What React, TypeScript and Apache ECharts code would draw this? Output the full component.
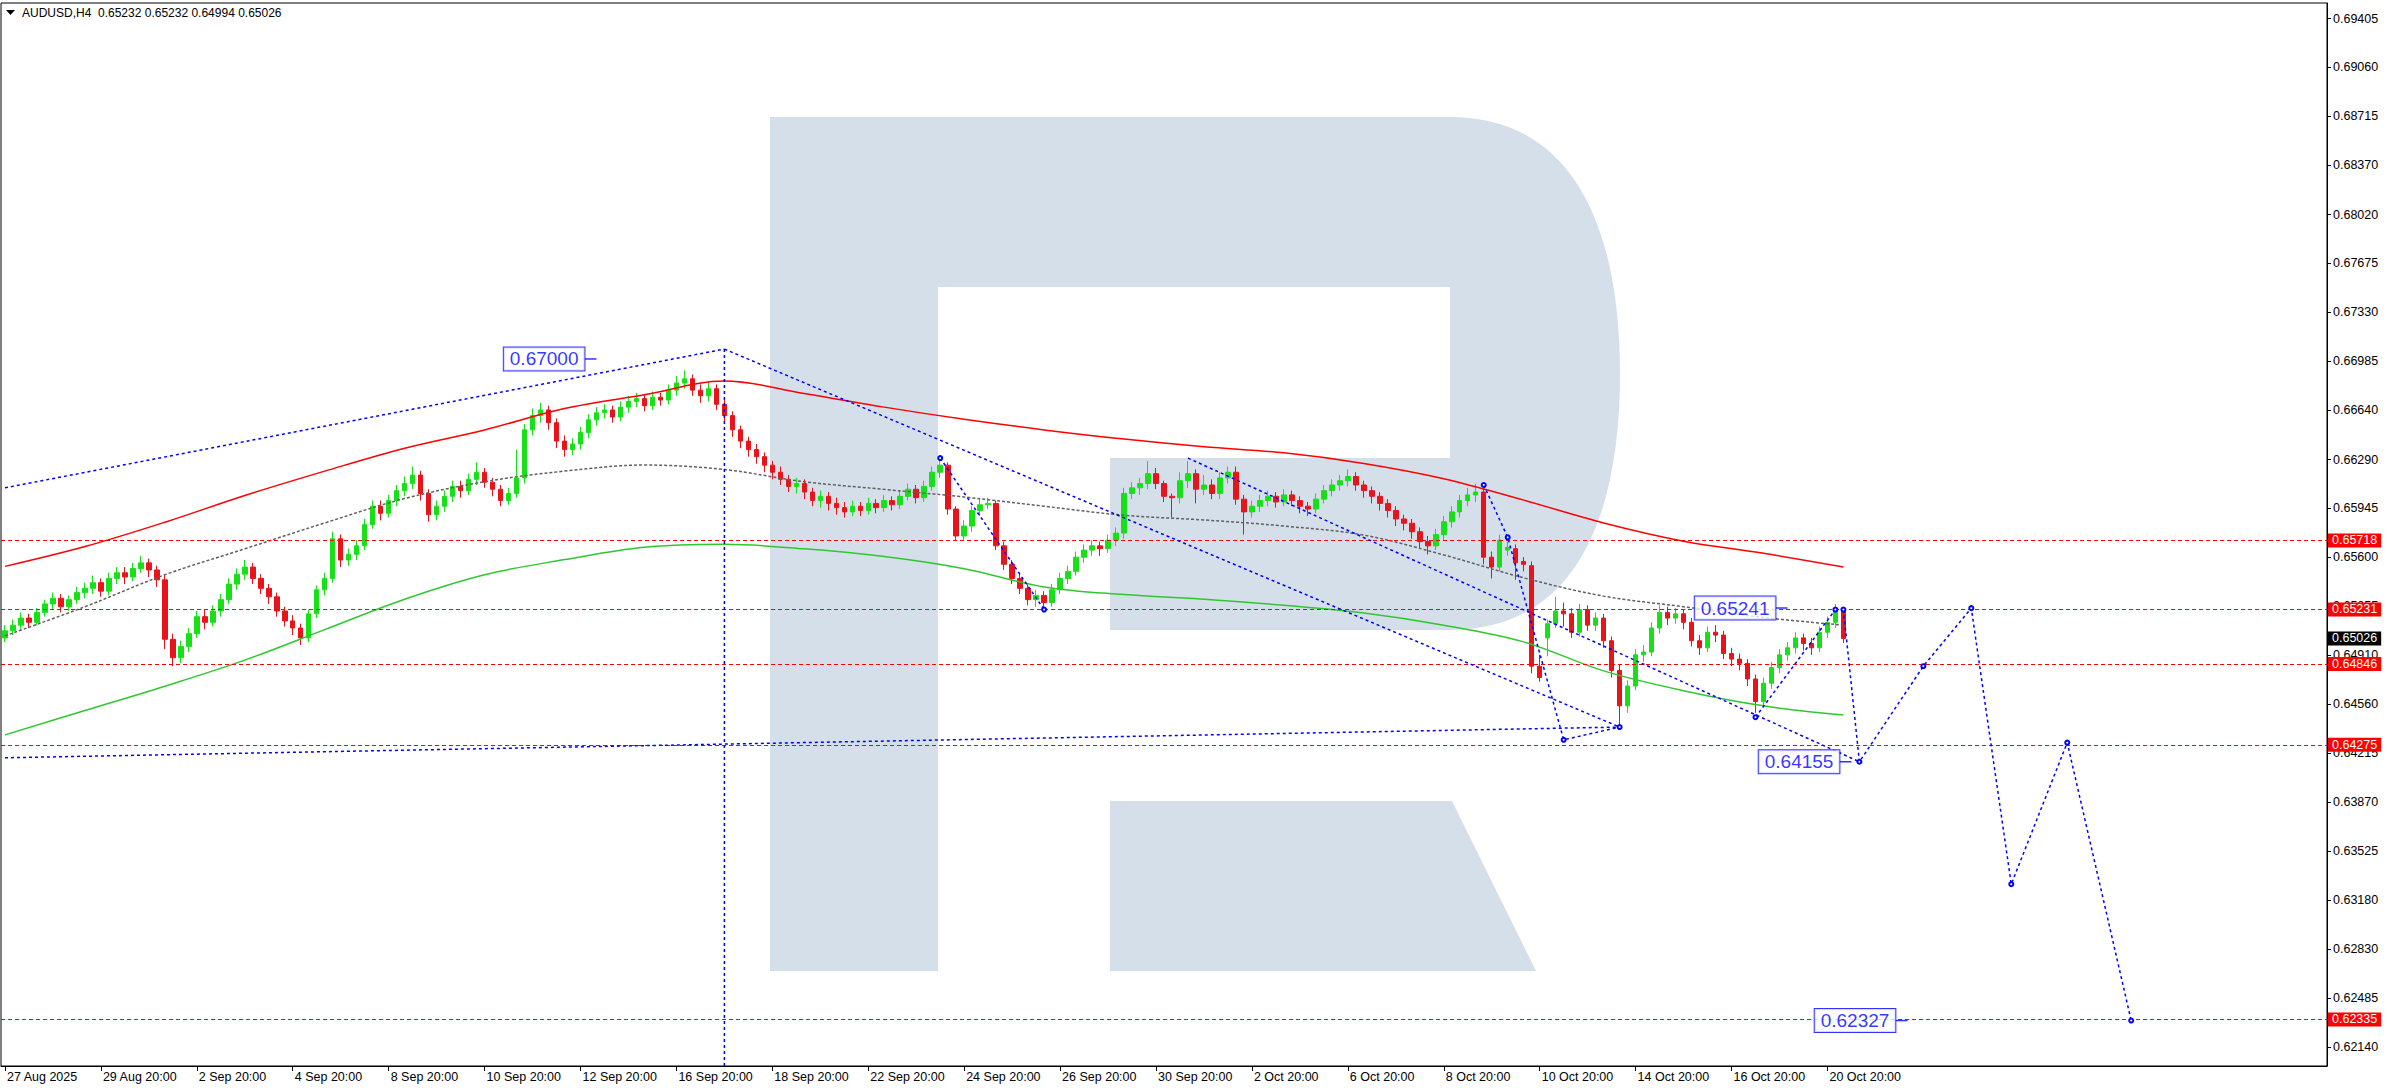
import React, { useEffect, useRef } from "react";
import * as echarts from "echarts";

const FONT = "Liberation Sans, Arial, sans-serif";
const Y_MIN = 0.62006;
const Y_MAX = 0.695145;
const TOTAL_BARS = 291;

// ---- candles (H4), index 0 = 27 Aug 20:00 ----
const opens = [
  0.6503,0.6508,0.6512,0.6517,0.6514,0.6521,0.6527,0.6531,0.6525,0.6530,
  0.6535,0.6538,0.6542,0.6536,0.6545,0.6549,0.6546,0.6552,0.6556,0.6551,
  0.6544,0.6502,0.6489,0.6497,0.6506,0.6518,0.6514,0.6522,0.6530,0.6541,
  0.6548,0.6553,0.6545,0.6538,0.6532,0.6522,0.6515,0.6510,0.6503,0.6520,
  0.6537,0.6545,0.6573,0.6558,0.6562,0.6568,0.6583,0.6596,0.6591,0.6600,
  0.6607,0.6612,0.6618,0.6605,0.6590,0.6596,0.6603,0.6610,0.6607,0.6615,
  0.6620,0.6613,0.6608,0.6600,0.6605,0.6616,0.6650,0.6660,0.6664,0.6655,
  0.6642,0.6636,0.6640,0.6648,0.6657,0.6662,0.6664,0.6659,0.6666,0.6670,
  0.6672,0.6667,0.6673,0.6671,0.6678,0.6683,0.6686,0.6678,0.6674,0.6679,
  0.6668,0.6660,0.6650,0.6642,0.6636,0.6631,0.6625,0.6620,0.6615,0.6610,
  0.6612,0.6606,0.6600,0.6603,0.6598,0.6595,0.6592,0.6596,0.6593,0.6598,
  0.6595,0.6600,0.6597,0.6603,0.6608,0.6602,0.6610,0.6620,0.6625,0.6594,
  0.6575,0.6582,0.6593,0.6597,0.6598,0.6568,0.6555,0.6545,0.6538,0.6530,
  0.6533,0.6528,0.6537,0.6545,0.6550,0.6560,0.6565,0.6568,0.6566,0.6572,
  0.6577,0.6605,0.6609,0.6612,0.6619,0.6612,0.6603,0.6602,0.6614,0.6619,
  0.6608,0.6611,0.6605,0.6616,0.6620,0.6601,0.6592,0.6596,0.6600,0.6603,
  0.6599,0.6604,0.6600,0.6596,0.6594,0.6601,0.6607,0.6611,0.6614,0.6617,
  0.6611,0.6607,0.6603,0.6598,0.6593,0.6587,0.6584,0.6578,0.6571,0.6568,
  0.6576,0.6585,0.6592,0.6600,0.6604,0.6606,0.6560,0.6553,0.6565,0.6566,
  0.6557,0.6554,0.6483,0.6503,0.6513,0.6522,0.6520,0.6507,0.6523,0.6512,
  0.6517,0.6501,0.6480,0.6455,0.6469,0.6491,0.6493,0.6510,0.6521,0.6517,
  0.6520,0.6514,0.6501,0.6496,0.6507,0.6505,0.6492,0.6488,0.6485,0.6474,
  0.6458,0.6471,0.6482,0.6491,0.6496,0.6503,0.6499,0.6496,0.6507,0.6514,
  0.65232,
];
const closes = [
  0.6508,0.6512,0.6517,0.6514,0.6521,0.6527,0.6531,0.6525,0.6530,0.6535,
  0.6538,0.6542,0.6536,0.6545,0.6549,0.6546,0.6552,0.6556,0.6551,0.6544,
  0.6502,0.6489,0.6497,0.6506,0.6518,0.6514,0.6522,0.6530,0.6541,0.6548,
  0.6553,0.6545,0.6538,0.6532,0.6522,0.6515,0.6510,0.6503,0.6520,0.6537,
  0.6545,0.6573,0.6558,0.6562,0.6568,0.6583,0.6596,0.6591,0.6600,0.6607,
  0.6612,0.6618,0.6605,0.6590,0.6596,0.6603,0.6610,0.6607,0.6615,0.6620,
  0.6613,0.6608,0.6600,0.6605,0.6616,0.6650,0.6660,0.6664,0.6655,0.6642,
  0.6636,0.6640,0.6648,0.6657,0.6662,0.6664,0.6659,0.6666,0.6670,0.6672,
  0.6667,0.6673,0.6671,0.6678,0.6683,0.6686,0.6678,0.6674,0.6679,0.6668,
  0.6660,0.6650,0.6642,0.6636,0.6631,0.6625,0.6620,0.6615,0.6610,0.6612,
  0.6606,0.6600,0.6603,0.6598,0.6595,0.6592,0.6596,0.6593,0.6598,0.6595,
  0.6600,0.6597,0.6603,0.6608,0.6602,0.6610,0.6620,0.6625,0.6594,0.6575,
  0.6582,0.6593,0.6597,0.6598,0.6568,0.6555,0.6545,0.6538,0.6530,0.6533,
  0.6528,0.6537,0.6545,0.6550,0.6560,0.6565,0.6568,0.6566,0.6572,0.6577,
  0.6605,0.6609,0.6612,0.6619,0.6612,0.6603,0.6602,0.6614,0.6619,0.6608,
  0.6611,0.6605,0.6616,0.6620,0.6601,0.6592,0.6596,0.6600,0.6603,0.6599,
  0.6604,0.6600,0.6596,0.6594,0.6601,0.6607,0.6611,0.6614,0.6617,0.6611,
  0.6607,0.6603,0.6598,0.6593,0.6587,0.6584,0.6578,0.6571,0.6568,0.6576,
  0.6585,0.6592,0.6600,0.6604,0.6606,0.6560,0.6553,0.6572,0.6567,0.6556,
  0.6555,0.6483,0.6475,0.6513,0.6522,0.6520,0.6507,0.6523,0.6512,0.6517,
  0.6501,0.6480,0.6455,0.6469,0.6491,0.6493,0.6510,0.6521,0.6517,0.6520,
  0.6514,0.6501,0.6496,0.6507,0.6505,0.6492,0.6488,0.6485,0.6474,0.6458,
  0.6471,0.6482,0.6491,0.6496,0.6503,0.6499,0.6496,0.6507,0.6514,0.6523,
  0.65026,
];
const lows = [
  0.6500,0.6505,0.6509,0.6510,0.6512,0.6518,0.6523,0.6521,0.6522,0.6527,
  0.6531,0.6534,0.6532,0.6533,0.6541,0.6541,0.6543,0.6549,0.6546,0.6539,
  0.6495,0.6483,0.6485,0.6493,0.6503,0.6509,0.6511,0.6518,0.6527,0.6537,
  0.6544,0.6541,0.6534,0.6527,0.6518,0.6511,0.6505,0.6498,0.6500,0.6517,
  0.6533,0.6542,0.6553,0.6554,0.6558,0.6565,0.6580,0.6586,0.6588,0.6596,
  0.6603,0.6608,0.6600,0.6585,0.6586,0.6592,0.6599,0.6602,0.6604,0.6611,
  0.6609,0.6603,0.6596,0.6597,0.6602,0.6612,0.6646,0.6655,0.6650,0.6637,
  0.6631,0.6632,0.6636,0.6644,0.6653,0.6658,0.6655,0.6656,0.6662,0.6666,
  0.6663,0.6664,0.6667,0.6668,0.6674,0.6679,0.6674,0.6669,0.6670,0.6664,
  0.6655,0.6645,0.6637,0.6631,0.6626,0.6620,0.6615,0.6611,0.6606,0.6605,
  0.6601,0.6596,0.6595,0.6593,0.6590,0.6588,0.6589,0.6589,0.6590,0.6591,
  0.6592,0.6593,0.6594,0.6600,0.6598,0.6599,0.6607,0.6616,0.6590,0.6572,
  0.6572,0.6578,0.6589,0.6594,0.6565,0.6551,0.6541,0.6534,0.6526,0.6525,
  0.6521,0.6525,0.6534,0.6541,0.6547,0.6556,0.6561,0.6561,0.6563,0.6568,
  0.6573,0.6601,0.6604,0.6608,0.6608,0.6599,0.6588,0.6598,0.6609,0.6598,
  0.6604,0.6601,0.6601,0.6612,0.6597,0.6576,0.6588,0.6592,0.6596,0.6595,
  0.6596,0.6596,0.6591,0.6589,0.6591,0.6598,0.6603,0.6607,0.6610,0.6607,
  0.6602,0.6598,0.6593,0.6588,0.6582,0.6579,0.6573,0.6566,0.6562,0.6565,
  0.6572,0.6581,0.6588,0.6596,0.6599,0.6555,0.6545,0.6550,0.6561,0.6544,
  0.6550,0.6478,0.6472,0.6490,0.6510,0.6511,0.6503,0.6504,0.6508,0.6508,
  0.6496,0.6475,0.6440,0.6450,0.6466,0.6486,0.6490,0.6506,0.6512,0.6513,
  0.6509,0.6497,0.6491,0.6493,0.6500,0.6488,0.6483,0.6480,0.6469,0.6450,
  0.6454,0.6467,0.6478,0.6487,0.6492,0.6494,0.6491,0.6493,0.6503,0.6510,
  0.64994,
];
const highs = [
  0.6512,0.6516,0.6521,0.6520,0.6524,0.6530,0.6535,0.6534,0.6533,0.6539,
  0.6542,0.6547,0.6545,0.6549,0.6553,0.6553,0.6556,0.6561,0.6559,0.6554,
  0.6548,0.6506,0.6501,0.6510,0.6522,0.6523,0.6526,0.6534,0.6545,0.6552,
  0.6558,0.6556,0.6548,0.6541,0.6535,0.6525,0.6519,0.6513,0.6523,0.6540,
  0.6549,0.6578,0.6576,0.6566,0.6572,0.6587,0.6600,0.6600,0.6604,0.6611,
  0.6617,0.6624,0.6621,0.6608,0.6600,0.6607,0.6614,0.6614,0.6619,0.6627,
  0.6623,0.6616,0.6611,0.6609,0.6636,0.6654,0.6665,0.6669,0.6667,0.6658,
  0.6646,0.6644,0.6652,0.6661,0.6666,0.6668,0.6667,0.6670,0.6674,0.6676,
  0.6675,0.6677,0.6676,0.6682,0.6688,0.6692,0.6689,0.6682,0.6684,0.6682,
  0.6672,0.6663,0.6653,0.6645,0.6640,0.6634,0.6628,0.6624,0.6618,0.6616,
  0.6615,0.6609,0.6607,0.6606,0.6602,0.6599,0.6600,0.6599,0.6602,0.6601,
  0.6604,0.6603,0.6607,0.6612,0.6611,0.6614,0.6624,0.6630,0.6627,0.6596,
  0.6586,0.6596,0.6601,0.6602,0.6600,0.6571,0.6558,0.6549,0.6541,0.6537,
  0.6536,0.6541,0.6549,0.6554,0.6564,0.6569,0.6572,0.6571,0.6576,0.6581,
  0.6609,0.6613,0.6616,0.6628,0.6623,0.6614,0.6605,0.6620,0.6628,0.6622,
  0.6618,0.6615,0.6620,0.6624,0.6624,0.6604,0.6600,0.6604,0.6607,0.6606,
  0.6608,0.6607,0.6603,0.6599,0.6605,0.6611,0.6615,0.6618,0.6622,0.6620,
  0.6614,0.6610,0.6606,0.6601,0.6596,0.6590,0.6587,0.6581,0.6575,0.6580,
  0.6589,0.6596,0.6604,0.6609,0.6612,0.6609,0.6564,0.6576,0.6571,0.6569,
  0.6560,0.6557,0.6491,0.6516,0.6532,0.6528,0.6524,0.6527,0.6526,0.6521,
  0.6520,0.6504,0.6484,0.6473,0.6495,0.6498,0.6514,0.6526,0.6525,0.6524,
  0.6523,0.6517,0.6505,0.6511,0.6512,0.6508,0.6496,0.6492,0.6488,0.6477,
  0.6475,0.6486,0.6495,0.6500,0.6507,0.6506,0.6503,0.6511,0.6518,0.6527,
  0.65232,
];

// ---- x tick labels, one every 12 bars ----
const dateLabels = [
  "27 Aug 2025", "29 Aug 20:00", "2 Sep 20:00", "4 Sep 20:00", "8 Sep 20:00",
  "10 Sep 20:00", "12 Sep 20:00", "16 Sep 20:00", "18 Sep 20:00", "22 Sep 20:00",
  "24 Sep 20:00", "26 Sep 20:00", "30 Sep 20:00", "2 Oct 20:00", "6 Oct 20:00",
  "8 Oct 20:00", "10 Oct 20:00", "14 Oct 20:00", "16 Oct 20:00", "20 Oct 20:00",
];
const LABEL_EVERY = 12;

// ---- price axis tick labels ----
const priceTicks = [
  0.69405, 0.6906, 0.68715, 0.6837, 0.6802, 0.67675, 0.6733, 0.66985, 0.6664, 0.6629,
  0.65945, 0.656, 0.65255, 0.6491, 0.6456, 0.64215, 0.6387, 0.63525, 0.6318, 0.6283,
  0.62485, 0.6214,
];

// ---- horizontal levels ----
const levels = [0.65718, 0.65231, 0.64846, 0.64275, 0.62335];
const lastPrice = 0.65026;

// ---- moving averages, read every 10 bars ----
const maIdx = [0,10,20,30,40,50,60,70,80,90,100,110,120,130,140,150,160,170,180,190,200,210,220,230];
const maRed = [0.65535,0.65675,0.65847,0.66036,0.66208,0.6637,0.66499,0.6665,0.66747,0.66844,0.66757,0.6666,0.66574,0.66499,0.66434,0.6638,0.66337,0.66262,0.66154,0.66003,0.65842,0.65713,0.65627,0.6553];
const maGray = [0.65045,0.6525,0.65476,0.65659,0.65842,0.66014,0.66133,0.66208,0.66251,0.66219,0.66133,0.66079,0.66025,0.6596,0.65896,0.65863,0.6582,0.65756,0.65616,0.65454,0.65325,0.6525,0.65174,0.6512];
const maGreen = [0.64345,0.64517,0.64689,0.64873,0.65088,0.65303,0.65476,0.65583,0.6567,0.65691,0.65659,0.65605,0.65519,0.6539,0.65336,0.65303,0.6526,0.65206,0.6512,0.65002,0.64797,0.64657,0.6455,0.64485];

// ---- blue dotted analysis lines [barIndex, price] ----
const trendTop = [[0, 0.6609], [90, 0.6707]];
const trendBottom = [[0, 0.64183], [202, 0.644]];
const apexLine = [[90, 0.6707], [202, 0.644]];
const verticalLine = [[90, 0.6707], [90, Y_MIN]];
const zigzagSep = [[117, 0.663], [130, 0.6523]];
const channelLine = [[148, 0.663], [232, 0.64155]];
const zigzagOct = [[185, 0.6611], [188, 0.6574], [195, 0.6431], [202, 0.644]];
const risingLeg = [[219, 0.6447], [229, 0.6523]];
const forecast = [[230, 0.6523], [232, 0.64155], [240, 0.6483], [246, 0.6524], [251, 0.6329], [258, 0.6429], [266, 0.62327]];

// ---- price tags ----
const tagIdx = [74, 223, 231, 238];
const tagPrice = [0.67, 0.65241, 0.64155, 0.62327];

const LOGO_PATH =
  "M770 117 L1450 117 C1575 117 1620 230 1620 374 C1620 518 1575 630 1450 630 L1110 630 L1110 458 L1450 458 L1450 287 L938 287 L938 971 L770 971 Z";
echarts.graphic.registerShape("rfLogo", echarts.graphic.extendPath(LOGO_PATH, {}));

function blueSeries(pts: number[][], marks: boolean) {
  return {
    type: "line",
    data: pts.map((p) => [p[0], p[1]]),
    showSymbol: marks,
    symbol: marks ? "emptyCircle" : "none",
    symbolSize: 4,
    itemStyle: { color: "#0000ff" },
    lineStyle: { color: "#0000ff", width: 1.5, type: [3, 3] },
    silent: true,
    z: 5,
  };
}

function maSeries(vals: number[], color: string, type: any) {
  return {
    type: "line",
    data: maIdx.map((x, k) => [x, vals[k]]),
    smooth: 0.35,
    showSymbol: false,
    symbol: "none",
    lineStyle: { color, width: 1.5, type },
    silent: true,
    z: 4,
  };
}

function buildOption() {
  const categories = Array.from({ length: TOTAL_BARS }, (_, i) => String(i));
  const candleData = closes.map((c, i) => [opens[i], c, lows[i], highs[i]]);
  const lastLabelIdx = (dateLabels.length - 1) * LABEL_EVERY;
  const showIdx = (i: number) => i % LABEL_EVERY === 0 && i <= lastLabelIdx;

  return {
    animation: false,
    backgroundColor: "#ffffff",
    textStyle: { fontFamily: FONT },
    grid: { left: 1, right: 63, top: 3, bottom: 24, show: true, borderColor: "#000", borderWidth: 1, backgroundColor: "transparent" },
    xAxis: {
      type: "category",
      data: categories,
      boundaryGap: true,
      axisLine: { show: true, lineStyle: { color: "#000", width: 1 } },
      axisTick: { show: true, alignWithLabel: true, interval: (i: number) => showIdx(i), length: 5, lineStyle: { color: "#000" } },
      axisLabel: {
        interval: (i: number) => showIdx(i),
        formatter: (_v: string, i: number) => dateLabels[i / LABEL_EVERY] || "",
        align: "left",
        padding: [0, 0, 0, 2],
        color: "#000",
        fontSize: 12.5,
        fontFamily: FONT,
        margin: 4,
      },
      splitLine: { show: false },
    },
    yAxis: {
      type: "value",
      position: "right",
      min: Y_MIN,
      max: Y_MAX,
      scale: true,
      axisLine: { show: true, lineStyle: { color: "#000", width: 1 } },
      axisTick: { show: true, length: 4, customValues: priceTicks, lineStyle: { color: "#000" } },
      axisLabel: {
        customValues: priceTicks,
        formatter: (v: number) => v.toFixed(5),
        color: "#000",
        fontSize: 12.5,
        fontFamily: FONT,
        margin: 6,
      },
      splitLine: { show: false },
    },
    graphic: [
      { type: "rfLogo", x: 0, y: 0, z: -10, silent: true, style: { fill: "#d5dfea" } },
      { type: "polygon", z: -10, silent: true, shape: { points: [[1110, 801], [1452, 801], [1536, 971], [1110, 971]] }, style: { fill: "#d5dfea" } },
      { type: "polygon", z: 10, silent: true, shape: { points: [[6, 10], [15, 10], [10.5, 15]] }, style: { fill: "#000" } },
      {
        type: "text", z: 10, silent: true, x: 22, y: 13,
        style: { text: "AUDUSD,H4  0.65232 0.65232 0.64994 0.65026", fill: "#000", font: "12px Liberation Sans", verticalAlign: "middle", textAlign: "left" },
      },
    ],
    series: [
      {
        type: "candlestick",
        data: candleData,
        barWidth: 5,
        itemStyle: { color: "#18e018", color0: "#e8141c", borderColor: "#18e018", borderColor0: "#e8141c", borderWidth: 1 },
        silent: true,
        z: 3,
        markLine: {
          silent: true,
          symbol: ["none", "none"],
          precision: 5,
          label: {
            show: true,
            position: "end",
            distance: 1,
            formatter: (p: any) => Number(p.value).toFixed(5),
            color: "#fff",
            fontSize: 12.5,
            fontFamily: FONT,
            padding: [1, 4, 0, 4],
            lineHeight: 13,
          },
          data: [
            ...levels.map((v) => ({
              yAxis: v,
              lineStyle: { color: "#ff0000", type: [4, 3], width: 1 },
              label: { backgroundColor: "#ff0000" },
            })),
            { yAxis: lastPrice, lineStyle: { color: "rgba(0,0,0,0)", width: 0 }, label: { backgroundColor: "#000" } },
          ],
        },
      },
      maSeries(maRed, "#ff0000", "solid"),
      maSeries(maGreen, "#2ec82e", "solid"),
      maSeries(maGray, "#606060", [3, 2]),
      blueSeries(trendTop, false),
      blueSeries(trendBottom, false),
      blueSeries(apexLine, false),
      blueSeries(verticalLine, false),
      blueSeries(zigzagSep, true),
      blueSeries(channelLine, false),
      blueSeries(zigzagOct, true),
      blueSeries(risingLeg, true),
      blueSeries(forecast, true),
      {
        type: "scatter",
        data: tagIdx.map((x, k) => [x, tagPrice[k]]),
        symbol: "rect",
        symbolSize: [12, 1.5],
        symbolOffset: [-6, 0],
        itemStyle: { color: "#0000ff" },
        silent: true,
        z: 6,
        label: {
          show: true,
          position: "left",
          distance: 0,
          formatter: (p: any) => Number(p.value[1]).toFixed(5),
          color: "#0000ff",
          backgroundColor: "#ffffff",
          borderColor: "#0000ff",
          borderWidth: 1,
          padding: [1, 6, 1, 6],
          fontSize: 19,
          lineHeight: 21,
          fontFamily: FONT,
        },
      },
    ],
  };
}

export default function App() {
  const ref = useRef<HTMLDivElement>(null);
  useEffect(() => {
    if (!ref.current) return;
    const chart = echarts.init(ref.current, null, { renderer: "svg" });
    chart.setOption(buildOption() as any);
    return () => chart.dispose();
  }, []);
  return (
    <div
      ref={ref}
      style={{ position: "fixed", left: 0, top: 0, width: 2390, height: 1090, background: "#fff" }}
    />
  );
}
